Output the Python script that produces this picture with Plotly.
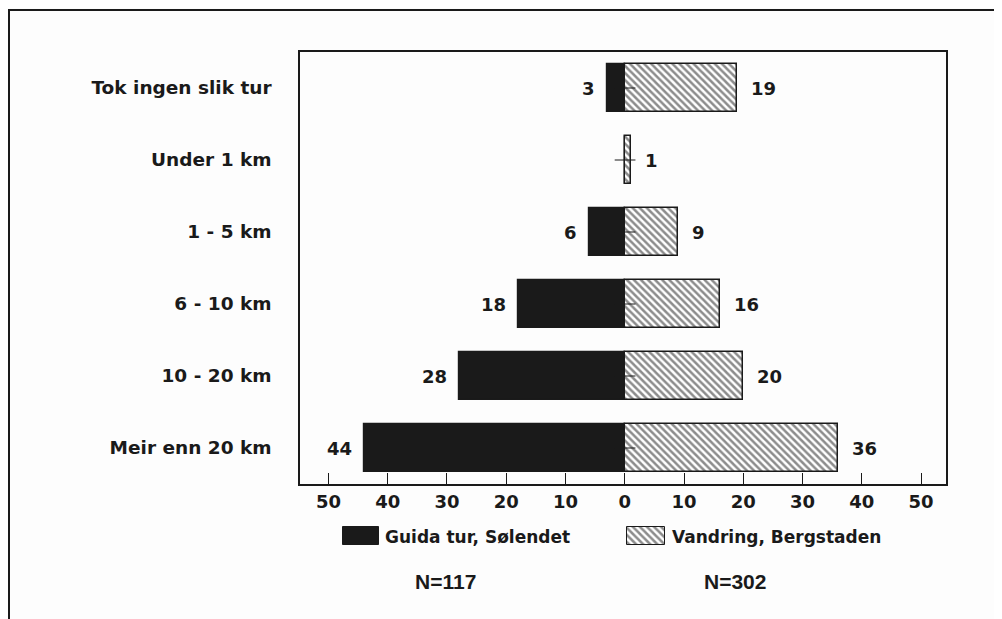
import plotly.graph_objects as go

categories = ["Tok ingen slik tur", "Under 1 km", "1 - 5 km", "6 - 10 km", "10 - 20 km", "Meir enn 20 km"]
guida = [3, 0, 6, 18, 28, 44]
vandring = [19, 1, 9, 16, 20, 36]
tick_vals = [-50, -40, -30, -20, -10, 0, 10, 20, 30, 40, 50]
tick_text = ["50", "40", "30", "20", "10", "0", "10", "20", "30", "40", "50"]
series_names = ["Guida tur, Sølendet", "Vandring, Bergstaden"]
n_labels = ["N=117", "N=302"]

# page body has an 8px margin, so the figure starts at (8, 8) in the window
OFF = 8
W, H = 1002 - OFF, 619 - OFF
FONT = "DejaVu Sans"
INK = "#1a1a1a"

# plot area in window pixels
PL, PR, PT, PB = 300, 946, 52, 484

def px_x(v):
    return (v - OFF) / W

def px_y(v):
    return 1 - (v - OFF) / H

BOLD = dict(family=FONT, color=INK, weight="bold")

fig = go.Figure()

ypos = list(range(len(categories)))

fig.add_trace(go.Bar(
    y=ypos, x=[-g for g in guida], orientation="h", width=0.667,
    marker=dict(color=INK, line=dict(color=INK, width=1.2)),
    name=series_names[0], showlegend=False, xaxis="x", yaxis="y",
))
HATCH = dict(shape="\\", size=5, solidity=0.5, fgcolor=INK, bgcolor="white")
fig.add_trace(go.Bar(
    y=ypos, x=vandring, orientation="h", width=0.667,
    marker=dict(color="white", line=dict(color=INK, width=1.5), pattern=HATCH),
    name=series_names[1], showlegend=False, xaxis="x", yaxis="y",
))

# small centre ticks at x=0
tx, ty = [], []
for i in ypos:
    tx += [-1.7, 1.8, None]
    ty += [i, i, None]
fig.add_trace(go.Scatter(x=tx, y=ty, mode="lines", line=dict(color=INK, width=1),
                         showlegend=False, hoverinfo="skip", xaxis="x", yaxis="y"))

annotations = []
for i, (g, v) in enumerate(zip(guida, vandring)):
    if g > 0:
        annotations.append(dict(x=-g, y=i, xref="x", yref="y", text=str(g), showarrow=False,
                                xanchor="right", xshift=-10, font=dict(BOLD, size=18)))
    annotations.append(dict(x=v, y=i, xref="x", yref="y", text=str(v), showarrow=False,
                            xanchor="left", xshift=12, font=dict(BOLD, size=18)))

# legend swatches drawn on an overlay pixel axis (window pixel coordinates)
fig.add_trace(go.Bar(
    y=[536], x=[36], base=[343], orientation="h", width=[18],
    marker=dict(color=INK, line=dict(color=INK, width=1)),
    showlegend=False, xaxis="x2", yaxis="y2", hoverinfo="skip",
))
fig.add_trace(go.Bar(
    y=[536], x=[38], base=[627], orientation="h", width=[18],
    marker=dict(color="white", line=dict(color=INK, width=1), pattern=HATCH),
    showlegend=False, xaxis="x2", yaxis="y2", hoverinfo="skip",
))
annotations.append(dict(x=px_x(383), y=px_y(537), xref="paper", yref="paper", text=series_names[0],
                        showarrow=False, xanchor="left", yanchor="middle", font=dict(BOLD, size=17)))
annotations.append(dict(x=px_x(670), y=px_y(537), xref="paper", yref="paper", text=series_names[1],
                        showarrow=False, xanchor="left", yanchor="middle", font=dict(BOLD, size=17)))
annotations.append(dict(x=px_x(445), y=px_y(581), xref="paper", yref="paper", text=n_labels[0],
                        showarrow=False, xanchor="center", yanchor="middle",
                        font=dict(family="Liberation Sans", size=21, color=INK, weight="bold")))
annotations.append(dict(x=px_x(735), y=px_y(581), xref="paper", yref="paper", text=n_labels[1],
                        showarrow=False, xanchor="center", yanchor="middle",
                        font=dict(family="Liberation Sans", size=21, color=INK, weight="bold")))

fig.update_layout(
    width=W, height=H,
    margin=dict(l=0, r=0, t=0, b=0),
    paper_bgcolor="#fdfdfd", plot_bgcolor="rgba(0,0,0,0)",
    barmode="relative", bargap=0,
    annotations=annotations,
    xaxis=dict(domain=[px_x(PL), px_x(PR)], range=[-54.8, 54.2], tickvals=tick_vals, ticktext=tick_text,
               ticks="inside", ticklen=11, tickwidth=1.3, tickcolor=INK,
               showline=True, linecolor=INK, linewidth=1.5, mirror=True,
               showgrid=False, zeroline=False, automargin=False,
               tickfont=dict(BOLD, size=18), ticklabelstandoff=1),
    yaxis=dict(domain=[px_y(PB), px_y(PT)], range=[5.5, -0.5], tickvals=ypos, ticktext=categories,
               ticks="", showline=True, linecolor=INK, linewidth=1.5, mirror=True,
               showgrid=False, zeroline=False, automargin=False,
               tickfont=dict(BOLD, size=18.5), ticklabelstandoff=23),
    xaxis2=dict(domain=[0, 1], range=[OFF, 1002], visible=False, fixedrange=True),
    yaxis2=dict(domain=[0, 1], range=[619, OFF], visible=False, fixedrange=True, anchor="x2"),
    shapes=[dict(type="rect", xref="paper", yref="paper", x0=px_x(9), x1=px_x(997),
                 y0=-0.05, y1=px_y(10), line=dict(color=INK, width=2), layer="below")],
)
fig.data[3].update(xaxis="x2", yaxis="y2")
fig.data[4].update(xaxis="x2", yaxis="y2")

fig.write_html("out.html")
